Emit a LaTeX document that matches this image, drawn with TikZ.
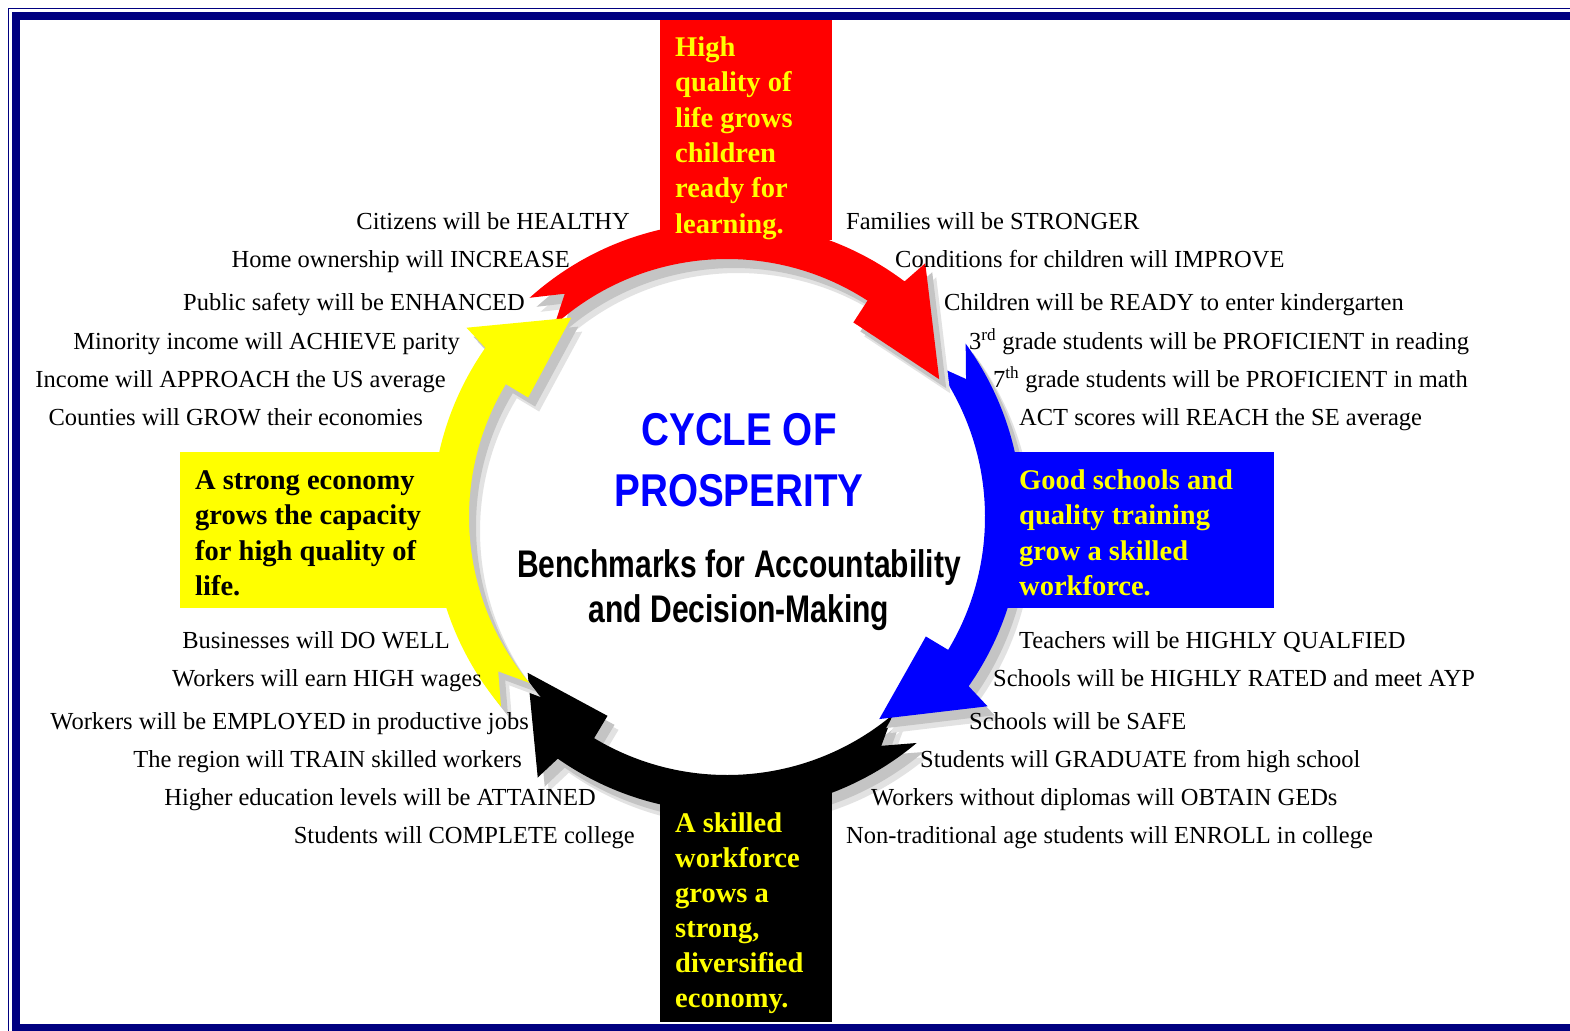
\documentclass[tikz,border=0pt]{standalone}
\usepackage{fontspec}
\setmainfont{Liberation Serif}
\newfontfamily\narrowsans[FakeStretch=0.84]{Liberation Sans}
\newfontfamily\narrowersans[FakeStretch=0.78]{Liberation Sans}
\usetikzlibrary{calc}
\definecolor{navy}{RGB}{0,0,128}
\definecolor{pyellow}{RGB}{255,255,0}
\definecolor{pred}{RGB}{255,0,0}
\definecolor{pblue}{RGB}{0,0,255}
\definecolor{shadowgray}{RGB}{196,196,196}
\definecolor{shadowlight}{RGB}{226,226,226}
\tikzset{
  body/.style={font=\fontsize{24.5}{29}\selectfont, inner sep=0pt},
  lbody/.style={body, anchor=base east},
  rbody/.style={body, anchor=base west},
  boxtxt/.style={font=\bfseries\fontsize{28.5}{35}\selectfont, inner sep=0pt, anchor=base west},
}
% arrow path: #1 tail angle, #2 head base angle, #3 tip angle, #4 colour
\newcommand\arrowshape[4]{%
  \fill[#4] (#1:295) arc[start angle=#1, end angle=#2, radius=295]
    -- ({#2+1}:322) -- (#3:253) -- ({#2-4}:232) -- ({#2-4}:258)
    arc[start angle={#2-4}, end angle=#1, radius=258]
    -- ({#1+6}:276) -- cycle;}
\newcommand\cyclearrow[4]{%
  \begin{scope}[shift={(738,531)}]\arrowshape{#2}{#3}{#4}{shadowlight}\end{scope}
  \begin{scope}[shift={(734,526)}]\arrowshape{#2}{#3}{#4}{shadowgray}\end{scope}
  \begin{scope}[shift={(727,517)}]\arrowshape{#2}{#3}{#4}{#1}\end{scope}}
\begin{document}
\begin{tikzpicture}[x=1pt,y=-1pt]
\useasboundingbox (0,0) rectangle (1570,1030);
\clip (0,0) rectangle (1570,1030);
\fill[white] (0,0) rectangle (1570,1030);
% frame
\draw[navy, line width=1.6pt] (8.5,8.5) rectangle (1600,1050);
\draw[navy, line width=8pt] (16,16) rectangle (1600,1028);

% cycle arrows
\cyclearrow{black}{50}{125}{142}
\cyclearrow{pblue}{324}{395}{413}
\cyclearrow{pred}{228}{307}{327}
\cyclearrow{pyellow}{140}{215}{232}

% boxes
\fill[pred] (660,20) rectangle (832,240);
\fill[pyellow] (180,452) rectangle (455,608);
\fill[pblue] (1000,452) rectangle (1274,608);
\fill[black] (660,793) rectangle (832,1022);

% box texts
\foreach \t [count=\i from 0] in {High,quality of,life grows,children,ready for,learning.}
  \node[boxtxt, text=pyellow] (red\i) at (675,{56.7+35.3*\i}) {\t};
\foreach \t [count=\i from 0] in {A strong economy,grows the capacity,for high quality of,life.}
  \node[boxtxt, text=black] (yel\i) at (195,{489.5+35.3*\i}) {\t};
\foreach \t [count=\i from 0] in {Good schools and,quality training,grow a skilled,workforce.}
  \node[boxtxt, text=pyellow] (blu\i) at (1019,{489.5+35.3*\i}) {\t};
\foreach \t [count=\i from 0] in {A skilled,workforce,grows a,{strong,},diversified,economy.}
  \node[boxtxt, text=pyellow] (blk\i) at (675,{832.5+35*\i}) {\t};

% centre title
\node[inner sep=0pt, anchor=base, text=pblue, font=\narrowsans\bfseries\fontsize{46}{50}\selectfont] (t1) at (739,445) {CYCLE OF};
\node[inner sep=0pt, anchor=base, text=pblue, font=\narrowsans\bfseries\fontsize{46}{50}\selectfont] (t2) at (739,506) {PROSPERITY};
\node[inner sep=0pt, anchor=base, font=\narrowersans\bfseries\fontsize{38.5}{42}\selectfont] (s1) at (739,577) {Benchmarks for Accountability};
\node[inner sep=0pt, anchor=base, font=\narrowersans\bfseries\fontsize{38.5}{42}\selectfont] (s2) at (739,622) {and Decision-Making};

% left top
\node[lbody] (lt1) at (630,229.5) {Citizens will be HEALTHY};
\node[lbody] (lt2) at (570,267.5) {Home ownership will INCREASE};
\node[lbody] (lt3) at (525,310.5) {Public safety will be ENHANCED};
\node[lbody] (lt4) at (460,349.5) {Minority income will ACHIEVE parity};
\node[lbody] (lt5) at (446,387.5) {Income will APPROACH the US average};
\node[lbody] (lt6) at (423,425.5) {Counties will GROW their economies};
% right top
\node[rbody] (rt1) at (846,229.5) {Families will be STRONGER};
\node[rbody] (rt2) at (895,267.5) {Conditions for children will IMPROVE};
\node[rbody] (rt3) at (944,310.5) {Children will be READY to enter kindergarten};
\node[rbody] (rt4) at (969,349.5) {3\textsuperscript{rd} grade students will be PROFICIENT in reading};
\node[rbody] (rt5) at (993,387.5) {7\textsuperscript{th} grade students will be PROFICIENT in math};
\node[rbody] (rt6) at (1019,425.5) {ACT scores will REACH the SE average};
% right bottom
\node[rbody] (rb1) at (1019,648.5) {Teachers will be HIGHLY QUALFIED};
\node[rbody] (rb2) at (993,686.5) {Schools will be HIGHLY RATED and meet AYP};
\node[rbody] (rb3) at (969,729.5) {Schools will be SAFE};
\node[rbody] (rb4) at (920,767.5) {Students will GRADUATE from high school};
\node[rbody] (rb5) at (871,805.5) {Workers without diplomas will OBTAIN GEDs};
\node[rbody] (rb6) at (846,843.5) {Non-traditional age students will ENROLL in college};
% left bottom
\node[lbody] (lb1) at (450,648.5) {Businesses will DO WELL};
\node[lbody] (lb2) at (482,686.5) {Workers will earn HIGH wages};
\node[lbody] (lb3) at (529,729.5) {Workers will be EMPLOYED in productive jobs};
\node[lbody] (lb4) at (522,767.5) {The region will TRAIN skilled workers};
\node[lbody] (lb5) at (596,805.5) {Higher education levels will be ATTAINED};
\node[lbody] (lb6) at (635,843.5) {Students will COMPLETE college};
\end{tikzpicture}
\end{document}
